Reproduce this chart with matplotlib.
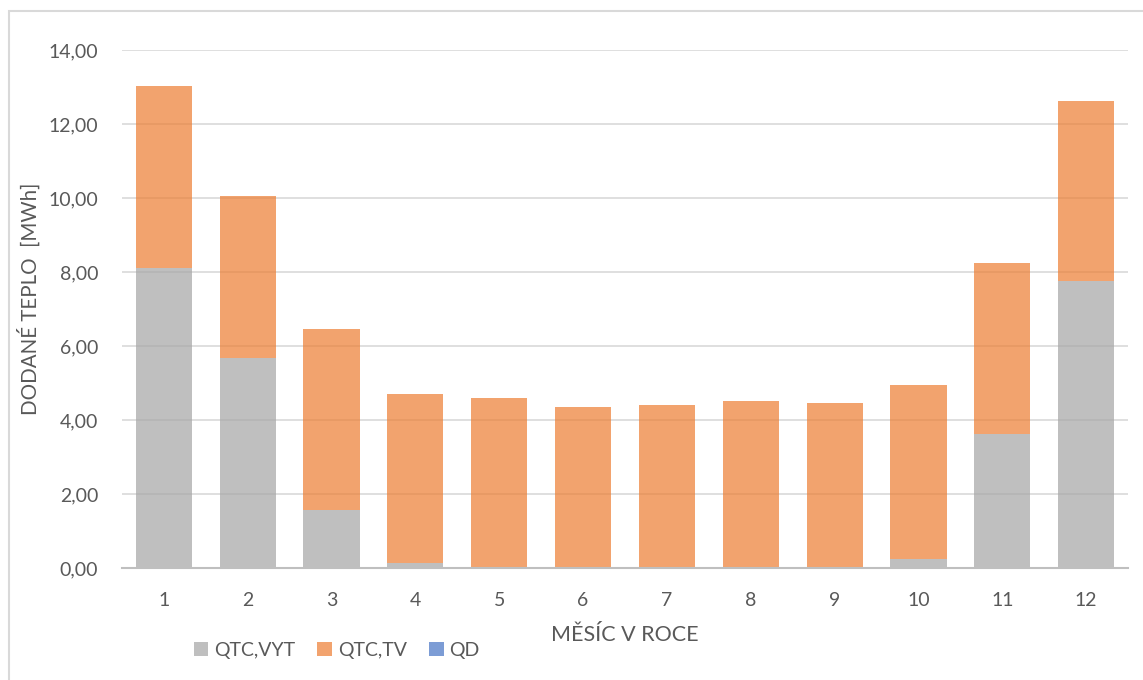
import matplotlib
matplotlib.use("Agg")
import matplotlib.pyplot as plt
from matplotlib.patches import Rectangle
from matplotlib.ticker import FuncFormatter
import numpy as np

# Monthly delivered heat [MWh]
months = ["1", "2", "3", "4", "5", "6", "7", "8", "9", "10", "11", "12"]
q_vyt = [8.11, 5.68, 1.57, 0.14, 0.01, 0.01, 0.01, 0.01, 0.01, 0.24, 3.62, 7.76]
q_tv = [4.91, 4.37, 4.89, 4.56, 4.58, 4.34, 4.40, 4.50, 4.45, 4.71, 4.62, 4.86]
q_d = [0.0] * 12

series_names = ["QTC,VYT", "QTC,TV", "QD"]
colors = ["#A5A5A5", "#ED7D31", "#4472C4"]
alpha = 0.7

plt.rcParams["font.family"] = ["Lato", "DejaVu Sans"]
text_color = "#595959"

fig = plt.figure(figsize=(11.43, 6.80), dpi=100)
ax = fig.add_axes([0.1067, 0.1647, 0.8802, 0.7618])

x = np.arange(1, len(months) + 1)
width = 0.67
bottom = np.zeros(len(months))
for vals, name, c in zip([q_vyt, q_tv, q_d], series_names, colors):
    ax.bar(x, vals, width, bottom=bottom, color=c, alpha=alpha,
           label=name, zorder=3, linewidth=0)
    bottom = bottom + np.array(vals)

ax.set_xlim(0.5, len(months) + 0.5)
ax.set_ylim(0, 14)
ax.set_yticks(np.arange(0, 15, 2))
ax.yaxis.set_major_formatter(FuncFormatter(lambda v, p: f"{v:.2f}".replace(".", ",")))
ax.set_xticks(x)
ax.set_xticklabels(months)

ax.grid(axis="y", color="#D9D9D9", linewidth=1.2, zorder=0)
ax.set_axisbelow(True)
for s in ["top", "right", "left"]:
    ax.spines[s].set_visible(False)
ax.spines["bottom"].set_color("#BFBFBF")
ax.spines["bottom"].set_linewidth(1.5)
ax.spines["bottom"].set_zorder(4)

ax.tick_params(axis="both", length=0, labelsize=14, colors=text_color)
ax.tick_params(axis="y", pad=17)
ax.tick_params(axis="x", pad=17)

ax.set_xlabel("MĚSÍC V ROCE", fontsize=15.5, color=text_color, labelpad=12)
fig.text(0.025, 0.561, "DODANÉ TEPLO  [MWh]", rotation=90, fontsize=14.8,
         color=text_color, ha="center", va="center")

leg = fig.legend(loc="center left", bbox_to_anchor=(0.154, 0.044), ncol=3,
                 frameon=False, fontsize=14, handlelength=0.75, handleheight=0.75,
                 handletextpad=0.3, columnspacing=1.15, labelcolor=text_color)

# Chart area border
fig.patches.append(Rectangle((9 / 1143, -0.1), 1.2, 1.1 - 11 / 680,
                             transform=fig.transFigure, fill=False,
                             edgecolor="#D9D9D9", linewidth=1.5))

fig.savefig("out.png", dpi=100)
